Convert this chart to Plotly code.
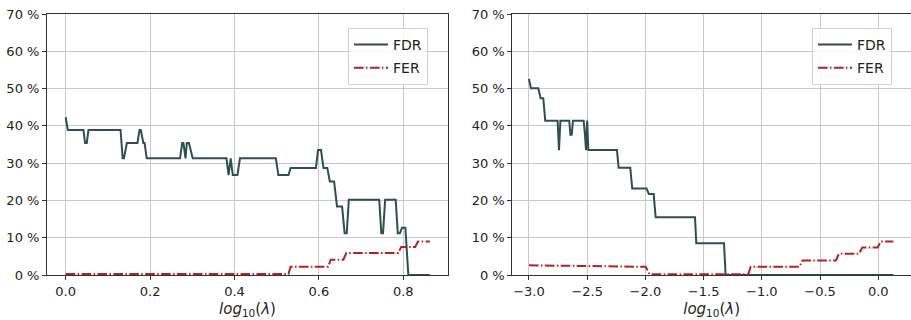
import plotly.graph_objects as go

# ---- data (percent) ----
left_fdr_x = [0.000, 0.005, 0.042, 0.046, 0.050, 0.054, 0.130, 0.135, 0.138, 0.145, 0.170, 0.175, 0.178,
              0.184, 0.187, 0.192, 0.271, 0.276, 0.279, 0.284, 0.287, 0.292, 0.301, 0.381, 0.386, 0.391,
              0.396, 0.407, 0.413, 0.498, 0.504, 0.528, 0.533, 0.593, 0.598, 0.605, 0.611, 0.620, 0.626,
              0.636, 0.643, 0.655, 0.661, 0.666, 0.671, 0.743, 0.748, 0.752, 0.757, 0.782, 0.787, 0.792,
              0.797, 0.805, 0.812, 0.863]
left_fdr_y = [42.3, 38.9, 38.9, 35.4, 35.4, 38.9, 38.9, 31.3, 31.3, 35.4, 35.4, 38.9, 38.9,
              35.4, 35.4, 31.3, 31.3, 35.4, 35.4, 31.3, 35.4, 35.4, 31.3, 31.3, 26.8, 31.3,
              26.8, 26.8, 31.3, 31.3, 26.8, 26.8, 28.7, 28.7, 33.5, 33.5, 28.7, 28.7, 25.1,
              25.1, 18.4, 18.4, 11.2, 11.2, 20.2, 20.2, 11.2, 11.2, 20.2, 20.2, 11.2, 11.2,
              12.7, 12.7, 0.0, 0.0]

left_fer_x = [0.000, 0.528, 0.533, 0.622, 0.628, 0.658, 0.665, 0.788, 0.795, 0.828, 0.835, 0.863]
left_fer_y = [0.3, 0.3, 2.2, 2.2, 4.1, 4.1, 5.9, 5.9, 7.5, 7.5, 9.0, 9.0]

right_fdr_x = [-3.000, -2.983, -2.920, -2.900, -2.877, -2.860, -2.754, -2.742, -2.730, -2.654, -2.644,
               -2.633, -2.622, -2.530, -2.519, -2.510, -2.500, -2.490, -2.244, -2.230, -2.130, -2.113,
               -1.990, -1.970, -1.929, -1.912, -1.574, -1.563, -1.325, -1.311, 0.129]
right_fdr_y = [52.6, 50.1, 50.1, 47.4, 47.4, 41.4, 41.4, 33.5, 41.4, 41.4, 37.6,
               37.6, 41.4, 41.4, 37.6, 33.5, 41.4, 33.5, 33.5, 28.75, 28.75, 23.2,
               23.2, 21.7, 21.7, 15.5, 15.5, 8.5, 8.5, 0.0, 0.0]

right_fer_x = [-3.000, -1.998, -1.964, -1.116, -1.096, -0.678, -0.650, -0.364, -0.338, -0.166,
               -0.137, -0.006, 0.023, 0.129]
right_fer_y = [2.6, 2.2, 0.2, 0.2, 2.2, 2.2, 3.9, 3.9, 5.7, 5.7, 7.4, 7.4, 9.0, 9.0]

y_ticks = [0, 10, 20, 30, 40, 50, 60, 70]
y_tick_labels = [f"{v} %" for v in y_ticks]
left_x_ticks = [0.0, 0.2, 0.4, 0.6, 0.8]
right_x_ticks = [-3.0, -2.5, -2.0, -1.5, -1.0, -0.5, 0.0]

FDR_COLOR = "#2f4f4f"
FER_COLOR = "#b22222"
FONT = "DejaVu Sans"
DASHDOT = "9.6px,2.4px,1.5px,2.4px"

fig = go.Figure()
fig.add_trace(go.Scatter(x=left_fdr_x, y=left_fdr_y, mode="lines", name="FDR",
                         line=dict(color=FDR_COLOR, width=2), xaxis="x", yaxis="y",
                         legend="legend", legendgroup="a"))
fig.add_trace(go.Scatter(x=left_fer_x, y=left_fer_y, mode="lines", name="FER",
                         line=dict(color=FER_COLOR, width=2, dash=DASHDOT), xaxis="x", yaxis="y",
                         legend="legend", legendgroup="b"))
fig.add_trace(go.Scatter(x=right_fdr_x, y=right_fdr_y, mode="lines", name="FDR",
                         line=dict(color=FDR_COLOR, width=2), xaxis="x2", yaxis="y2",
                         legend="legend2", legendgroup="c"))
fig.add_trace(go.Scatter(x=right_fer_x, y=right_fer_y, mode="lines", name="FER",
                         line=dict(color=FER_COLOR, width=2, dash=DASHDOT), xaxis="x2", yaxis="y2",
                         legend="legend2", legendgroup="d"))

W, H = 911, 320
ydom = [1 - 275 / H, 1 - 14 / H]

common_axis = dict(showline=True, linecolor="#333333", linewidth=1, mirror=True,
                   ticks="outside", ticklen=4, tickcolor="#333333", automargin=False,
                   showgrid=True, gridcolor="#c8c8c8", gridwidth=1, zeroline=False,
                   tickfont=dict(family=FONT, size=13, color="#222222"))

title_text = "<i>log</i><sub>10</sub>(<i>λ</i>)"
legend_font = dict(family=FONT, size=14, color="#222222")

fig.update_layout(
    width=W, height=H,
    margin=dict(l=0, r=0, t=0, b=0),
    paper_bgcolor="white", plot_bgcolor="white",
    font=dict(family=FONT, size=13, color="#222222"),
    xaxis=dict(domain=[47 / W, 448 / W], range=[-0.0443, 0.906], anchor="y",
               tickvals=left_x_ticks, tickformat=".1f",
               title=dict(text=title_text, standoff=5, font=dict(size=15)), **common_axis),
    yaxis=dict(domain=ydom, range=[0, 70], anchor="x", tickvals=y_ticks, ticktext=y_tick_labels,
               **common_axis),
    xaxis2=dict(domain=[512.3 / W, 1.0], range=[-3.143, 0.281], anchor="y2",
                tickvals=right_x_ticks, tickformat=".1f",
                title=dict(text=title_text, standoff=5, font=dict(size=15)), **common_axis),
    yaxis2=dict(domain=ydom, range=[0, 70], anchor="x2", tickvals=y_ticks, ticktext=y_tick_labels,
                **common_axis),
    legend=dict(x=348 / W, y=1 - 28 / H, xanchor="left", yanchor="top",
                bgcolor="rgba(255,255,255,0.85)", bordercolor="#d0d0d0", borderwidth=1,
                font=legend_font, tracegroupgap=2, itemwidth=34),
    legend2=dict(x=812 / W, y=1 - 28 / H, xanchor="left", yanchor="top",
                 bgcolor="rgba(255,255,255,0.85)", bordercolor="#d0d0d0", borderwidth=1,
                 font=legend_font, tracegroupgap=2, itemwidth=34),
    showlegend=True,
)

fig.write_html("out.html")
